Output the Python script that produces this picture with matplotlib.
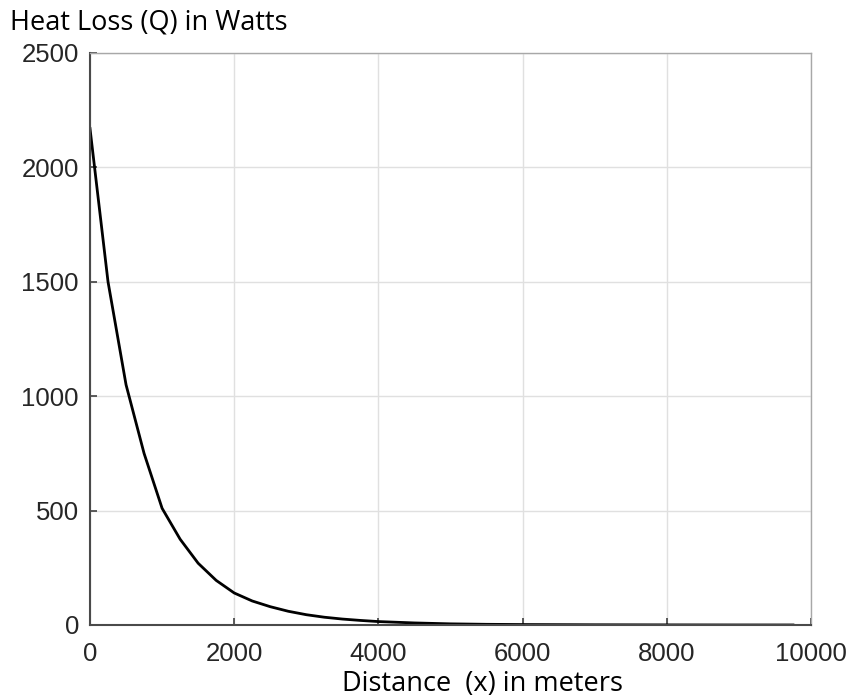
import matplotlib.pyplot as plt

# Heat loss along the pipe, read at sample distances
distance_m = [0, 250, 500, 750, 1000, 1250, 1500, 1750, 2000, 2250, 2500,
              2750, 3000, 3250, 3500, 3750, 4000, 4500, 5000, 5500, 6000,
              7000, 8000, 9000, 9750]
heat_loss_w = [2170, 1500, 1050, 750, 510, 375, 270, 195, 140, 105, 80,
               60, 45, 34, 26, 20, 15, 9, 5, 3, 2,
               1, 0.5, 0.2, 0.1]

x_ticks = [0, 2000, 4000, 6000, 8000, 10000]
y_ticks = [0, 500, 1000, 1500, 2000, 2500]

fig = plt.figure(figsize=(8.54, 7.0), dpi=100)
ax = fig.add_axes([90 / 854, 1 - 625 / 700, 721 / 854, 572 / 700])

ax.plot(distance_m, heat_loss_w, color='black', linewidth=2.0)

ax.set_xlim(0, 10000)
ax.set_ylim(0, 2500)
ax.set_xticks(x_ticks)
ax.set_yticks(y_ticks)
ax.grid(True, color='#e0e0e0', linewidth=1.0)
ax.set_axisbelow(True)

tick_font = dict(family='Liberation Sans', size=18.5)
ax.set_xticklabels([str(v) for v in x_ticks], fontdict=tick_font, color='#262626')
ax.set_yticklabels([str(v) for v in y_ticks], fontdict=tick_font, color='#262626')
ax.tick_params(direction='in', length=5, width=1.2, color='#404040')
ax.tick_params(axis='x', pad=12)
ax.tick_params(axis='y', pad=8)

for side in ['left', 'bottom']:
    ax.spines[side].set_color('#4a4a4a')
    ax.spines[side].set_linewidth(1.5)
for side in ['top', 'right']:
    ax.spines[side].set_color('#a8a8a8')
    ax.spines[side].set_linewidth(1.0)

fig.text(10 / 854, 1 - 22 / 700, 'Heat Loss (Q) in Watts', family='Open Sans',
         fontsize=19.5, color='black', ha='left', va='center')
fig.text(483 / 854, 1 - 684 / 700, 'Distance  (x) in meters', family='Open Sans',
         fontsize=19.5, color='black', ha='center', va='center')

fig.savefig('out.png', dpi=100, facecolor='white')
